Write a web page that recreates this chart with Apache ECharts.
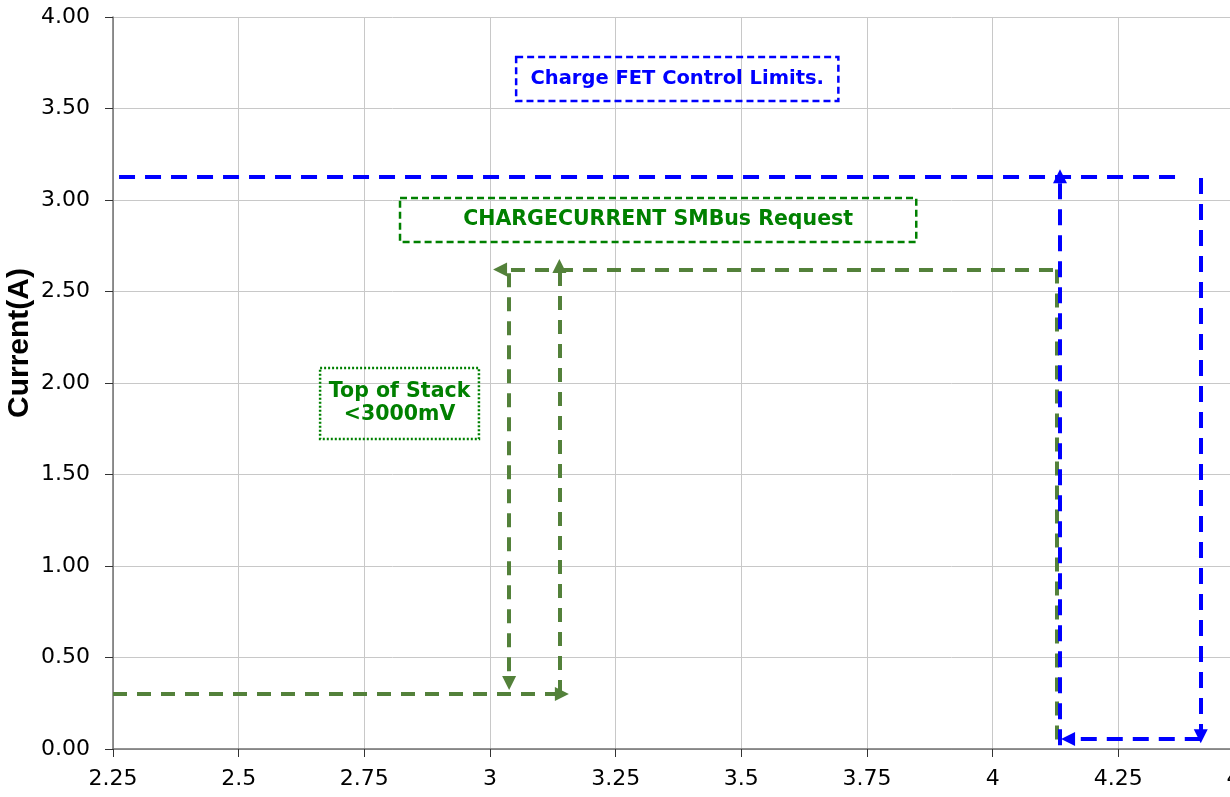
<!DOCTYPE html>
<html><head><meta charset="utf-8">
<script src="https://cdn.jsdelivr.net/npm/echarts@6/dist/echarts.min.js"></script>
<style>html,body{margin:0;padding:0;background:#fff}#c{width:1230px;height:797px}</style>
</head><body><div id="c"></div>
<script>
const xTickLabels = ['2.25','2.5','2.75','3','3.25','3.5','3.75','4','4.25','4.5'];
const yTickLabels = ['0.00','0.50','1.00','1.50','2.00','2.50','3.00','3.50','4.00'];
const yAxisTitle = 'Current(A)';

// green (Top of Stack / CHARGECURRENT) path segments: [start, end, arrow at end?]
const greenSegments = [
  [[2.25, 0.30], [3.143, 0.30], true],
  [[3.138, 0.30], [3.138, 2.64], true],
  [[4.12, 2.62], [3.02, 2.62], true],
  [[3.038, 2.60], [3.038, 0.36], true],
  [[4.128, 2.62], [4.128, 0.02], false]
];
// blue (Charge FET control limits) path segments
const blueSegments = [
  [[2.262, 3.125], [4.368, 3.125], false],
  [[4.414, 3.12], [4.414, 0.07], true],
  [[4.414, 0.055], [4.150, 0.055], true],
  [[4.134, 0.02], [4.134, 3.13], true]
];
// annotation boxes: [x1, y1, x2, y2, text]
const boxFET = [3.052, 3.781, 3.693, 3.541, 'Charge FET Control Limits.'];
const boxReq = [2.821, 3.011, 3.848, 2.770, 'CHARGECURRENT SMBus Request'];
const boxTop = [2.662, 2.082, 2.978, 1.694, 'Top of Stack\n<3000mV'];

const chart = echarts.init(document.getElementById('c'), null, {renderer: 'canvas'});
const tickFont = 'DejaVu Sans, sans-serif';
const boxFont = 'DejaVu Sans, sans-serif';
const titleFont = 'Liberation Sans, Arial, sans-serif';

function segData(segs) {
  return segs.map(s => ({coords: [s[0], s[1]], symbol: ['none', s[2] ? 'triangle' : 'none']}));
}
function box(b, color, dash, size) {
  return [{
    xAxis: b[0], yAxis: b[1],
    itemStyle: {color: 'rgba(0,0,0,0)', borderColor: color, borderWidth: 2.5, borderType: dash},
    label: {show: true, position: 'inside', formatter: b[4], color: color, fontWeight: 'bold', fontSize: size, fontFamily: boxFont, lineHeight: 23, align: 'center'}
  }, {xAxis: b[2], yAxis: b[3]}];
}

chart.setOption({
  animation: false,
  grid: {left: 113, right: -14, top: 17, bottom: 48, outerBoundsMode: 'none', containLabel: false},
  xAxis: {
    type: 'value', min: 2.25, max: 4.5, interval: 0.25,
    axisLine: {show: true, onZero: false, lineStyle: {color: '#707070', width: 1.5}},
    axisTick: {show: true, length: 8, lineStyle: {color: '#333'}},
    splitLine: {show: true, lineStyle: {color: '#c8c8c8', width: 1}},
    axisLabel: {color: '#000', fontSize: 22, fontFamily: tickFont, margin: 19, hideOverlap: false,
      formatter: (v) => { const i = Math.round((v - 2.25) / 0.25); return xTickLabels[i] || ''; }}
  },
  yAxis: {
    type: 'value', min: 0, max: 4, interval: 0.5,
    axisLine: {show: true, onZero: false, lineStyle: {color: '#707070', width: 1.5}},
    axisTick: {show: true, length: 8, lineStyle: {color: '#333'}},
    splitLine: {show: true, lineStyle: {color: '#c8c8c8', width: 1}},
    axisLabel: {color: '#000', fontSize: 22, fontFamily: tickFont, margin: 23,
      formatter: (v) => yTickLabels[Math.round(v / 0.5)] || ''}
  },
  graphic: [{
    type: 'text', left: 5, top: 268, rotation: Math.PI / 2,
    style: {text: yAxisTitle, fill: '#000', font: 'bold 30px ' + titleFont}
  }],
  series: [
    {
      type: 'scatter', data: [], silent: true,
      markArea: {silent: true, data: [box(boxFET, '#0000ff', [7, 4], 19.5), box(boxReq, '#008000', [7, 4], 20.5), box(boxTop, '#008000', [2, 2], 20.5)]}
    },
    {
      type: 'lines', coordinateSystem: 'cartesian2d', silent: true, z: 3,
      symbolSize: 14,
      lineStyle: {color: '#53813a', width: 4, type: [14, 10], opacity: 1, curveness: 0},
      data: segData(greenSegments)
    },
    {
      type: 'lines', coordinateSystem: 'cartesian2d', silent: true, z: 4,
      symbolSize: 14,
      lineStyle: {color: '#0000ff', width: 4, type: [16, 10], opacity: 1, curveness: 0},
      data: segData(blueSegments)
    }
  ]
});
</script></body></html>
